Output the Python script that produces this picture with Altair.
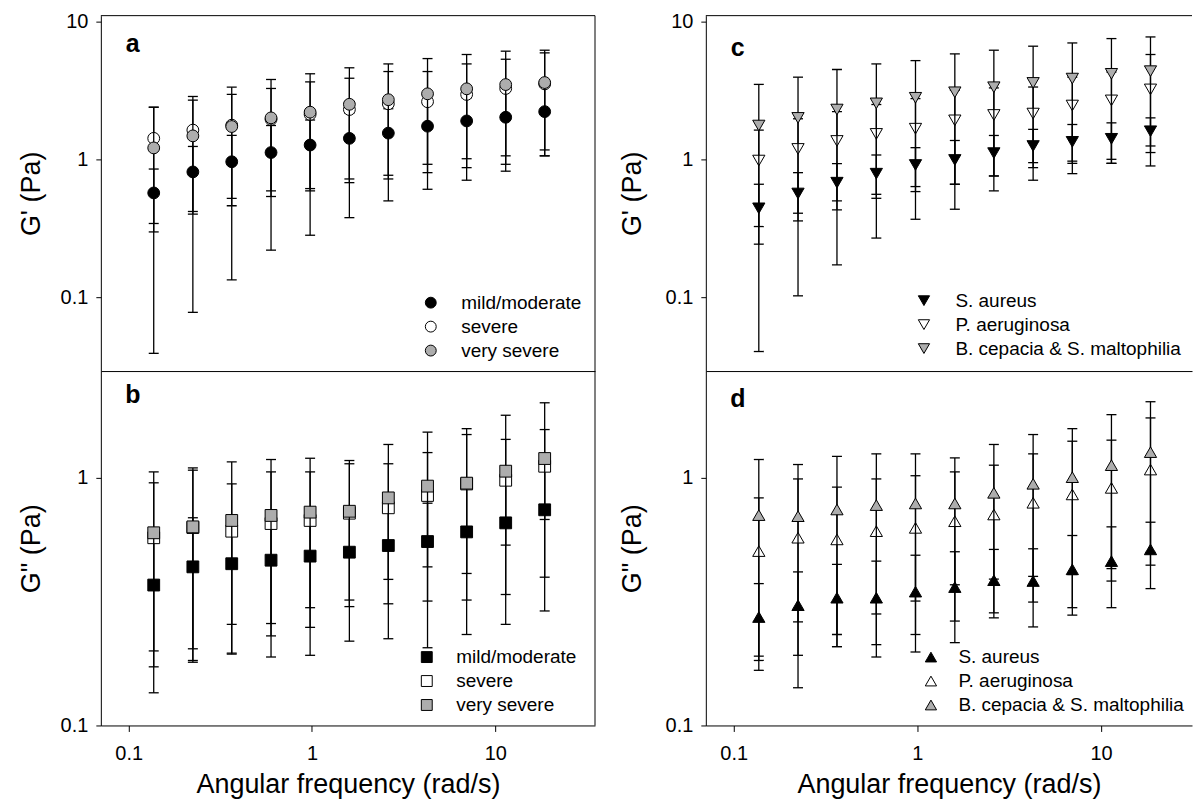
import altair as alt
import pandas as pd

FONT = "Liberation Sans"

# angular frequency (rad/s), shared by all panels
freq = [0.137, 0.224, 0.365, 0.598, 0.977, 1.60, 2.61, 4.27, 6.98, 11.4, 18.6]

severity_names = ["mild/moderate", "severe", "very severe"]
bacteria_names = ["S. aureus", "P. aeruginosa", "B. cepacia & S. maltophilia"]
series_fills = ["#000000", "#ffffff", "#adadad"]

# ---- panel a: G' by disease severity
a_mild = [0.57, 0.81, 0.96, 1.12, 1.27, 1.42, 1.55, 1.74, 1.90, 2.02, 2.22]
a_mild_lo = [0.297, 0.40, 0.46, 0.537, 0.613, 0.677, 0.766, 0.92, 1.01, 0.92, 1.06]
a_mild_hi = [0.85, 1.24, 1.49, 1.76, 1.93, 2.16, 2.33, 2.56, 2.79, 3.12, 3.38]
a_severe = [1.42, 1.63, 1.77, 1.95, 2.12, 2.30, 2.53, 2.62, 2.96, 3.27, 3.53]
a_severe_lo = [0.342, 0.418, 0.52, 0.59, 0.59, 0.72, 0.72, 0.80, 0.87, 1.06, 1.17]
a_severe_hi = [2.39, 2.69, 2.96, 3.27, 3.65, 3.88, 4.34, 4.34, 4.93, 5.33, 5.93]
a_vsev = [1.21, 1.48, 1.73, 2.00, 2.20, 2.51, 2.71, 2.99, 3.25, 3.49, 3.61]
a_vsev_lo = [0.039, 0.0774, 0.133, 0.219, 0.281, 0.377, 0.499, 0.606, 0.705, 0.82, 1.06]
a_vsev_hi = [2.39, 2.86, 3.34, 3.80, 4.18, 4.62, 4.93, 5.39, 5.77, 6.10, 6.20]

# ---- panel b: G'' by disease severity
b_mild = [0.369, 0.437, 0.45, 0.465, 0.483, 0.501, 0.533, 0.553, 0.605, 0.658, 0.743]
b_mild_lo = [0.1355, 0.183, 0.256, 0.258, 0.299, 0.302, 0.31, 0.318, 0.321, 0.338, 0.397]
b_mild_hi = [0.60, 0.69, 0.644, 0.67, 0.667, 0.70, 0.756, 0.79, 0.90, 0.98, 1.09]
b_severe = [0.573, 0.63, 0.609, 0.654, 0.673, 0.72, 0.757, 0.849, 0.945, 0.978, 1.114]
b_severe_lo = [0.20, 0.18, 0.196, 0.23, 0.249, 0.321, 0.389, 0.437, 0.411, 0.535, 0.679]
b_severe_hi = [0.955, 1.074, 0.946, 1.057, 1.057, 1.14, 1.14, 1.265, 1.496, 1.43, 1.567]
b_vsev = [0.60, 0.634, 0.673, 0.705, 0.727, 0.733, 0.83, 0.926, 0.952, 1.064, 1.197]
b_vsev_lo = [0.1725, 0.204, 0.194, 0.189, 0.192, 0.219, 0.224, 0.206, 0.233, 0.256, 0.29]
b_vsev_hi = [1.057, 1.097, 1.16, 1.186, 1.20, 1.175, 1.364, 1.53, 1.58, 1.79, 2.01]

# ---- panel c: G' by pathogen
c_aur = [0.441, 0.565, 0.677, 0.787, 0.91, 0.99, 1.11, 1.25, 1.34, 1.41, 1.60]
c_aur_lo = [0.242, 0.357, 0.43, 0.521, 0.634, 0.659, 0.757, 0.87, 0.935, 1.0, 1.25]
c_aur_hi = [0.659, 0.80, 0.93, 1.075, 1.215, 1.37, 1.49, 1.65, 1.79, 1.84, 2.0]
c_aer = [0.98, 1.19, 1.36, 1.53, 1.67, 1.92, 2.10, 2.15, 2.46, 2.68, 3.22]
c_aer_lo = [0.325, 0.406, 0.499, 0.557, 0.583, 0.659, 0.757, 0.946, 0.97, 0.935, 1.12]
c_aer_hi = [1.63, 1.97, 2.22, 2.5, 2.76, 3.18, 3.3, 3.35, 3.95, 4.3, 5.77]
c_bcep = [1.76, 2.0, 2.30, 2.55, 2.80, 3.07, 3.34, 3.59, 3.86, 4.18, 4.37]
c_bcep_lo = [0.0402, 0.102, 0.171, 0.268, 0.367, 0.434, 0.59, 0.705, 0.787, 0.935, 0.895]
c_bcep_hi = [3.50, 3.95, 4.49, 4.93, 5.21, 5.83, 6.20, 6.63, 7.0, 7.53, 7.74]

# ---- panel d: G'' by pathogen
d_aur = [0.274, 0.306, 0.328, 0.328, 0.347, 0.362, 0.386, 0.383, 0.427, 0.461, 0.514]
d_aur_lo = [0.167, 0.192, 0.208, 0.189, 0.198, 0.216, 0.272, 0.25, 0.279, 0.299, 0.357]
d_aur_hi = [0.374, 0.417, 0.447, 0.461, 0.487, 0.503, 0.514, 0.517, 0.585, 0.634, 0.662]
d_aer = [0.506, 0.573, 0.564, 0.609, 0.628, 0.668, 0.711, 0.793, 0.857, 0.911, 1.08]
d_aer_lo = [0.183, 0.142, 0.208, 0.212, 0.233, 0.264, 0.285, 0.315, 0.299, 0.383, 0.444]
d_aer_hi = [0.83, 0.99, 0.917, 0.99, 1.02, 1.057, 1.125, 1.25, 1.406, 1.42, 1.746]
d_bcep = [0.707, 0.70, 0.745, 0.776, 0.788, 0.788, 0.87, 0.946, 1.006, 1.125, 1.27]
d_bcep_lo = [0.1905, 0.262, 0.233, 0.282, 0.318, 0.37, 0.39, 0.40, 0.407, 0.43, 0.50]
d_bcep_hi = [1.186, 1.132, 1.22, 1.25, 1.25, 1.204, 1.364, 1.496, 1.58, 1.80, 2.03]

X_MIN = 0.0705
LEFT_W, RIGHT_W = 495, 487
LEFT_XMAX, RIGHT_XMAX = 35.0, 31.3
TOP_H, BOT_H = 356, 355
TOP_DOM = [0.029, 11.05]
BOT_DOM = [0.1, 2.70]
TICKS = [0.1, 1, 10]


def panel(names, series, shape, size, ydom, xmax, width, height, ytitle, title_x,
          bottom, letter, letter_xy, leg_xy, leg_offset, top_rule, right_rule):
    xscale = alt.Scale(type="log", domain=[X_MIN, xmax], nice=False)
    yscale = alt.Scale(type="log", domain=ydom, nice=False)
    if bottom:
        xaxis = alt.Axis(values=TICKS, format="~g", title="Angular frequency (rad/s)",
                         tickSize=6, labelPadding=12, titlePadding=8,
                         labelFontSize=20, titleFontSize=27, grid=False)
    else:
        xaxis = alt.Axis(labels=False, ticks=False, title=None, grid=False)
    yaxis = alt.Axis(values=TICKS, format="~g", title=ytitle, titleX=title_x,
                     titleY=height / 2, titleAngle=270, titleBaseline="middle",
                     titleAlign="center", tickSize=5, labelPadding=8,
                     labelFontSize=20, titleFontSize=27, grid=False)
    X = alt.X("freq:Q", scale=xscale, axis=xaxis)
    fill_scale = alt.Scale(domain=names, range=series_fills)
    legend = alt.Legend(title=None, orient="none", direction="vertical",
                        legendX=leg_xy[0], legendY=leg_xy[1], symbolType=shape,
                        symbolSize=size * 0.85, symbolStrokeColor="black",
                        symbolStrokeWidth=1, symbolOpacity=1, labelFont=FONT,
                        labelFontSize=19, labelColor="black", labelOffset=leg_offset,
                        labelLimit=0, rowPadding=4, padding=0)
    layers = []
    for name, (m, lo, hi) in zip(names, series):
        df = pd.DataFrame({"freq": freq, "value": m, "lo": lo, "hi": hi, "series": name})
        base = alt.Chart(df)
        layers.append(base.mark_rule(color="black", strokeWidth=1.3).encode(
            x=X, y=alt.Y("lo:Q", scale=yscale, axis=yaxis), y2="hi:Q"))
        for fld in ("lo", "hi"):
            layers.append(base.mark_tick(orient="horizontal", color="black", size=10,
                                         thickness=1.3, opacity=1).encode(
                x=X, y=alt.Y(f"{fld}:Q", scale=yscale, axis=yaxis)))
        layers.append(base.mark_point(filled=True, shape=shape, size=size, stroke="black",
                                      strokeWidth=1, opacity=1).encode(
            x=X, y=alt.Y("value:Q", scale=yscale, axis=yaxis),
            fill=alt.Fill("series:N", scale=fill_scale, legend=legend)))
    frame_df = pd.DataFrame({"k": [0]})
    if top_rule:
        layers.append(alt.Chart(frame_df).mark_rule(color="black", strokeWidth=1).encode(
            x=alt.value(0), x2=alt.value(width), y=alt.value(0)))
    if right_rule:
        layers.append(alt.Chart(frame_df).mark_rule(color="black", strokeWidth=1).encode(
            x=alt.value(width), y=alt.value(0), y2=alt.value(height)))
    layers.append(alt.Chart(pd.DataFrame({"t": [letter]})).mark_text(
        font=FONT, fontSize=25, fontWeight="bold", align="center", baseline="middle",
        color="black").encode(x=alt.value(letter_xy[0]), y=alt.value(letter_xy[1]), text="t:N"))
    return alt.layer(*layers).properties(width=width, height=height)


pa = panel(severity_names,
           [(a_mild, a_mild_lo, a_mild_hi), (a_severe, a_severe_lo, a_severe_hi),
            (a_vsev, a_vsev_lo, a_vsev_hi)],
           "circle", 140, TOP_DOM, LEFT_XMAX, LEFT_W, TOP_H, "G' (Pa)", -69,
           False, "a", (32, 28), (321, 278), 21, True, True)
pb = panel(severity_names,
           [(b_mild, b_mild_lo, b_mild_hi), (b_severe, b_severe_lo, b_severe_hi),
            (b_vsev, b_vsev_lo, b_vsev_hi)],
           "square", 140, BOT_DOM, LEFT_XMAX, LEFT_W, BOT_H, 'G" (Pa)', -69,
           True, "b", (32, 24), (317, 277), 20, False, True)
pc = panel(bacteria_names,
           [(c_aur, c_aur_lo, c_aur_hi), (c_aer, c_aer_lo, c_aer_hi),
            (c_bcep, c_bcep_lo, c_bcep_hi)],
           "triangle-down", 150, TOP_DOM, RIGHT_XMAX, RIGHT_W, TOP_H, "G' (Pa)", -73,
           False, "c", (32, 32), (209, 276), 22, True, False)
pd_ = panel(bacteria_names,
            [(d_aur, d_aur_lo, d_aur_hi), (d_aer, d_aer_lo, d_aer_hi),
             (d_bcep, d_bcep_lo, d_bcep_hi)],
            "triangle-up", 150, BOT_DOM, RIGHT_XMAX, RIGHT_W, BOT_H, 'G" (Pa)', -73,
            True, "d", (32, 28), (216, 277), 18, False, False)

chart = alt.concat(
    pa, pc, pb, pd_, columns=2, spacing={"row": 0, "column": 111}, bounds="flush"
).resolve_scale(
    x="independent", y="independent", fill="independent"
).resolve_legend(fill="independent").properties(
    padding={"left": 18, "top": 10, "right": 0, "bottom": 4},
    background="white",
).configure_view(strokeWidth=0).configure_axis(
    labelFont=FONT, titleFont=FONT, labelColor="black", titleColor="black",
    domainColor="black", tickColor="black", domainWidth=1, tickWidth=1,
    titleFontWeight="normal", grid=False,
)

chart.save("out.html", embed_options={"renderer": "svg", "actions": False})
